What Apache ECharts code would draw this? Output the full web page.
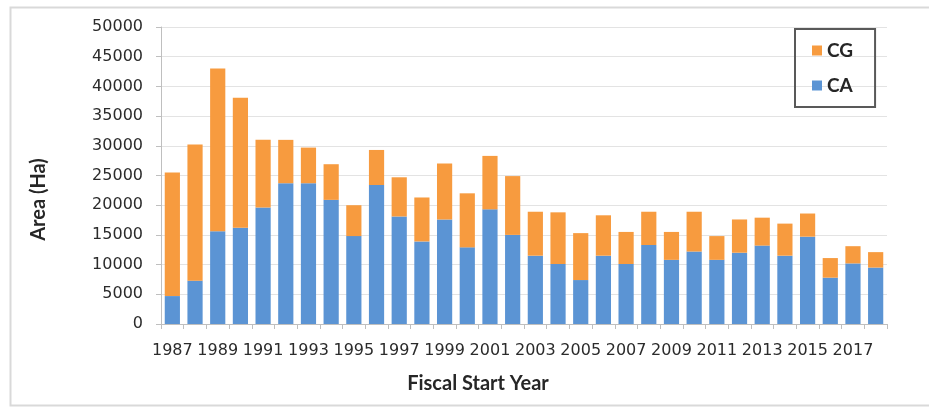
<!DOCTYPE html>
<html>
<head>
<meta charset="utf-8">
<script src="https://cdn.jsdelivr.net/npm/echarts@6/dist/echarts.min.js"></script>
<style>
html,body{margin:0;padding:0;background:#fff;}
#chart{width:929px;height:409px;}
</style>
</head>
<body>
<div id="chart"></div>
<script>
var years = ['1987','1988','1989','1990','1991','1992','1993','1994','1995','1996','1997','1998','1999','2000','2001','2002','2003','2004','2005','2006','2007','2008','2009','2010','2011','2012','2013','2014','2015','2016','2017','2018'];
var caValues = [4700,7300,15600,16200,19600,23700,23700,20900,14800,23400,18100,13900,17600,12900,19300,15000,11500,10100,7400,11500,10100,13300,10800,12200,10800,12000,13200,11500,14700,7800,10200,9500];
var cgValues = [20800,22900,27400,21900,11400,7300,6000,6000,5200,5900,6600,7400,9400,9100,9000,9900,7400,8700,7900,6800,5400,5600,4700,6700,4000,5600,4700,5400,3900,3300,2900,2600];
var yTicks = {min:0, max:50000, interval:5000};

var chart = echarts.init(document.getElementById('chart'), null, {renderer:'canvas'});
var tickFont = {fontFamily:'DejaVu Sans', fontSize:16, color:'#2b2b2b'};
chart.setOption({
  animation:false,
  backgroundColor:'#fff',
  graphic:[{
    type:'rect', left:8, top:5, shape:{width:940, height:398},
    style:{fill:'none', stroke:'#d9d9d9', lineWidth:2}, silent:true
  }],
  legend:{
    data:['CG','CA'],
    orient:'vertical',
    left:795, top:29,
    padding:[12,22,12,17],
    itemGap:16,
    itemWidth:10, itemHeight:10,
    borderColor:'#595959', borderWidth:2,
    icon:'rect',
    textStyle:{fontFamily:'Lato', fontWeight:'bold', fontSize:19, color:'#262626'}
  },
  grid:{left:161, right:42, top:27, bottom:85, containLabel:false},
  xAxis:{
    type:'category',
    data:years,
    name:'Fiscal Start Year',
    nameLocation:'middle',
    nameGap:50,
    nameTextStyle:{fontFamily:'Lato', fontWeight:'bold', fontSize:20, color:'#262626', padding:[0,92,0,0]},
    axisLine:{lineStyle:{color:'#bfbfbf', width:1}},
    axisTick:{show:true, interval:0, length:5, lineStyle:{color:'#bfbfbf'}},
    axisLabel:Object.assign({interval:1, margin:19}, tickFont)
  },
  yAxis:{
    type:'value',
    min:yTicks.min, max:yTicks.max, interval:yTicks.interval,
    name:'Area (Ha)',
    nameLocation:'middle',
    nameGap:112,
    nameTextStyle:{fontFamily:'Lato', fontWeight:'bold', fontSize:20, color:'#262626', padding:[0,48,0,0]},
    axisLine:{show:true, lineStyle:{color:'#bfbfbf', width:1}},
    axisTick:{show:true, length:5, lineStyle:{color:'#bfbfbf'}},
    axisLabel:Object.assign({margin:18, formatter:function(v){return String(v);}}, tickFont),
    splitLine:{lineStyle:{color:'#e3e3e3', width:1}}
  },
  series:[
    {name:'CA', type:'bar', stack:'total', data:caValues, barCategoryGap:'33%', itemStyle:{color:'#5B94D4'}},
    {name:'CG', type:'bar', stack:'total', data:cgValues, barCategoryGap:'33%', itemStyle:{color:'#F79B3F'}}
  ]
});
</script>
</body>
</html>
